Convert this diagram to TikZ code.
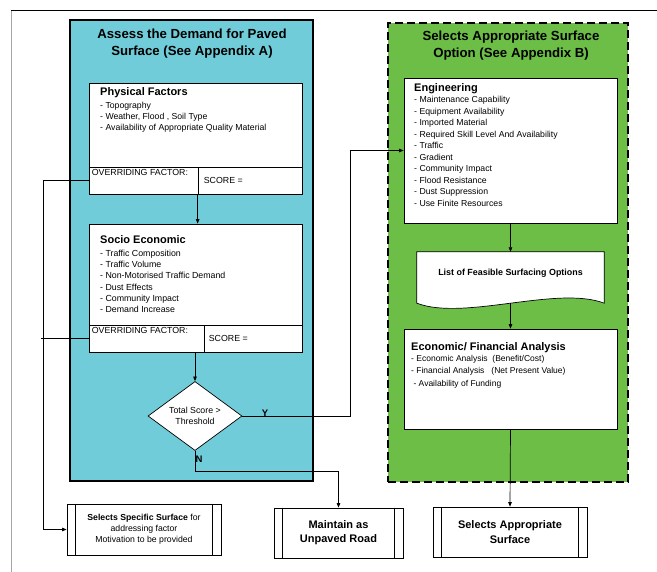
\documentclass[tikz,border=0pt]{standalone}
\usepackage{fontspec}
\setmainfont{Liberation Sans}
\usetikzlibrary{shapes.geometric, arrows.meta, calc}

\definecolor{paneblue}{RGB}{112,204,216}
\definecolor{panegreen}{RGB}{108,190,70}

\tikzset{
  panel/.style={draw, line width=1.2pt, inner sep=0pt},
  paneltitle/.style={font=\bfseries\fontsize{13.2}{17}\selectfont, align=center, inner sep=0pt},
  box/.style={draw, fill=white, line width=0.7pt, inner sep=0pt},
  boxtitle/.style={font=\bfseries\fontsize{11}{12}\selectfont, inner sep=0pt, anchor=west},
  items/.style={font=\fontsize{8.7}{11}\selectfont, align=left, inner sep=0pt, anchor=north west},
  celltext/.style={font=\fontsize{8.8}{10}\selectfont, inner sep=0pt},
  decision/.style={diamond, draw, fill=white, line width=0.7pt, inner sep=0pt,
    font=\fontsize{8.8}{11}\selectfont, align=center},
  process/.style={box, align=center},
  arr/.style={-{Triangle[length=4.5pt,width=3.5pt]}, line width=0.7pt},
}

% side bars of a predefined process box
\newcommand{\sidebars}[2]{%
  \draw[line width=0.7pt] ($(#1.north west)+(#2,0)$) -- ($(#1.south west)+(#2,0)$)
    ($(#1.north east)+(-#2,0)$) -- ($(#1.south east)+(-#2,0)$);}

\begin{document}
\begin{tikzpicture}[x=1pt,y=-1pt]
  \useasboundingbox (0,0) rectangle (657,572);

  % page frame
  \draw[gray!70, line width=0.8pt] (11,10) -- (11,572);
  \draw[line width=0.7pt] (11,10) -- (657,10);

  % Left panel: demand for paved surface
  \node[panel, fill=paneblue, minimum width=243pt, minimum height=461pt] (demand) at (191.5,250.5) {};
  \node[paneltitle] (demandtitle) at (192,44) {Assess the Demand for Paved\\Surface (See Appendix A)};

  % physical factors
  \node[box, minimum width=213pt, minimum height=84pt] (phys) at (195.5,125) {};
  \node[boxtitle] (phystitle) at (100,93) {Physical Factors};
  \node[items, font=\fontsize{8.7}{11}\selectfont] (physlist) at (100,102)
    {- Topography\\- Weather, Flood , Soil Type\\- Availability of Appropriate Quality Material};
  \node[box, minimum width=109pt, minimum height=27pt] (phof) at (143.5,180.5) {};
  \node[box, minimum width=104pt, minimum height=27pt] (phsc) at (250,180.5) {};
  \node[celltext, anchor=north west] at ($(phof.north west)+(3,3)$) {OVERRIDING FACTOR:};
  \node[celltext, anchor=west] at ($(phsc.west)+(6,0)$) {SCORE =};

  % socio economic
  \node[box, minimum width=213pt, minimum height=101pt] (socio) at (195.5,274.5) {};
  \node[boxtitle] (sociotitle) at (100,240) {Socio Economic};
  \node[items, font=\fontsize{8.8}{11.2}\selectfont] (sociolist) at (100,250)
    {- Traffic Composition\\- Traffic Volume\\- Non-Motorised Traffic Demand\\- Dust Effects\\- Community Impact\\- Demand Increase};
  \node[box, minimum width=115pt, minimum height=27pt] (soof) at (146.5,338.5) {};
  \node[box, minimum width=98pt, minimum height=27pt] (sosc) at (253,338.5) {};
  \node[celltext, anchor=north west] at ($(soof.north west)+(3,3)$) {OVERRIDING FACTOR:};
  \node[celltext, anchor=west] at ($(sosc.west)+(5,0)$) {SCORE =};

  % decision
  \node[decision, minimum width=94pt, minimum height=60pt] (dia) at (195,416) {Total Score >\\Threshold};

  % Right panel: surface option
  \node[panel, fill=panegreen, line width=2pt, dash pattern=on 8pt off 4pt,
    minimum width=240pt, minimum height=459pt] (option) at (508,252.5) {};
  \node[paneltitle] (optiontitle) at (511,46) {Selects Appropriate Surface\\Option (See Appendix B)};

  % engineering
  \node[box, minimum width=213pt, minimum height=145pt] (eng) at (510.5,150.5) {};
  \node[boxtitle] (engtitle) at (414,89) {Engineering};
  \node[items, font=\fontsize{8.7}{11.5}\selectfont] (englist) at (414,96)
    {- Maintenance Capability\\- Equipment Availability\\- Imported Material\\- Required Skill Level And Availability\\- Traffic\\- Gradient\\- Community Impact\\- Flood Resistance\\- Dust Suppression\\- Use Finite Resources};

  % list of options (document shape)
  \node[inner sep=0pt, minimum width=187pt, minimum height=51pt] (doc) at (510.5,277.5) {};
  \draw[fill=white, line width=0.7pt] (doc.north west) -- (doc.north east) -- (doc.south east)
    .. controls ($(doc.south east)+(-47,-18)$) and ($(doc.south west)+(47,18)$) .. (doc.south west) -- cycle;
  \node[font=\bfseries\fontsize{8.9}{10}\selectfont] at (510.5,273) {List of Feasible Surfacing Options};

  % economic / financial
  \node[box, minimum width=213pt, minimum height=100pt] (econ) at (510.5,379) {};
  \node[boxtitle, font=\bfseries\fontsize{11}{12}\selectfont] (econtitle) at (411,348) {Economic/ Financial Analysis};
  \node[items, font=\fontsize{8.5}{12.5}\selectfont] (econlist) at (411,355)
    {- Economic Analysis\ \ (Benefit/Cost)\\- Financial Analysis\ \ \ (Net Present Value)\\\ - Availability of Funding};

  % outcomes
  \node[process, minimum width=154pt, minimum height=51pt, font=\fontsize{8.7}{11}\selectfont] (spec) at (144,529.5)
    {\textbf{Selects Specific Surface} for\\addressing factor\\Motivation to be provided};
  \sidebars{spec}{9}
  \node[process, minimum width=129pt, minimum height=50pt, font=\bfseries\fontsize{11}{14}\selectfont] (maint) at (338.5,533)
    {Maintain as\\Unpaved Road};
  \sidebars{maint}{9}
  \node[process, minimum width=154pt, minimum height=50pt, font=\bfseries\fontsize{11}{15}\selectfont] (selapp) at (510,532)
    {Selects Appropriate\\Surface};
  \sidebars{selapp}{9}

  % connectors
  \draw[arr] (phsc.south west) -- (phsc.south west |- socio.north);
  \draw[arr] (dia.north |- soof.south) -- (dia.north);

  \coordinate (ybend) at (350,416);
  \draw[arr] (dia.east) -- (ybend) |- (eng.west);
  \node[font=\bfseries\fontsize{9.5}{10}\selectfont] at (265,413) {Y};

  \coordinate (nbend) at (195,471);
  \draw[arr] (dia.south) -- (nbend) -| (maint.north);
  \node[font=\bfseries\fontsize{9.5}{10}\selectfont] at (199,459) {N};

  \coordinate (fb) at (43,180.5);
  \draw[arr] (phof.west) -- (fb) |- (spec.west);
  \draw[line width=0.7pt] (soof.west) -- (soof.west -| 41,0);

  \draw[arr] (eng.south) -- (doc.north);
  \draw[arr] (doc.south) -- (econ.north);
  \draw[arr] (econ.south) -- (selapp.north);

\end{tikzpicture}
\end{document}
